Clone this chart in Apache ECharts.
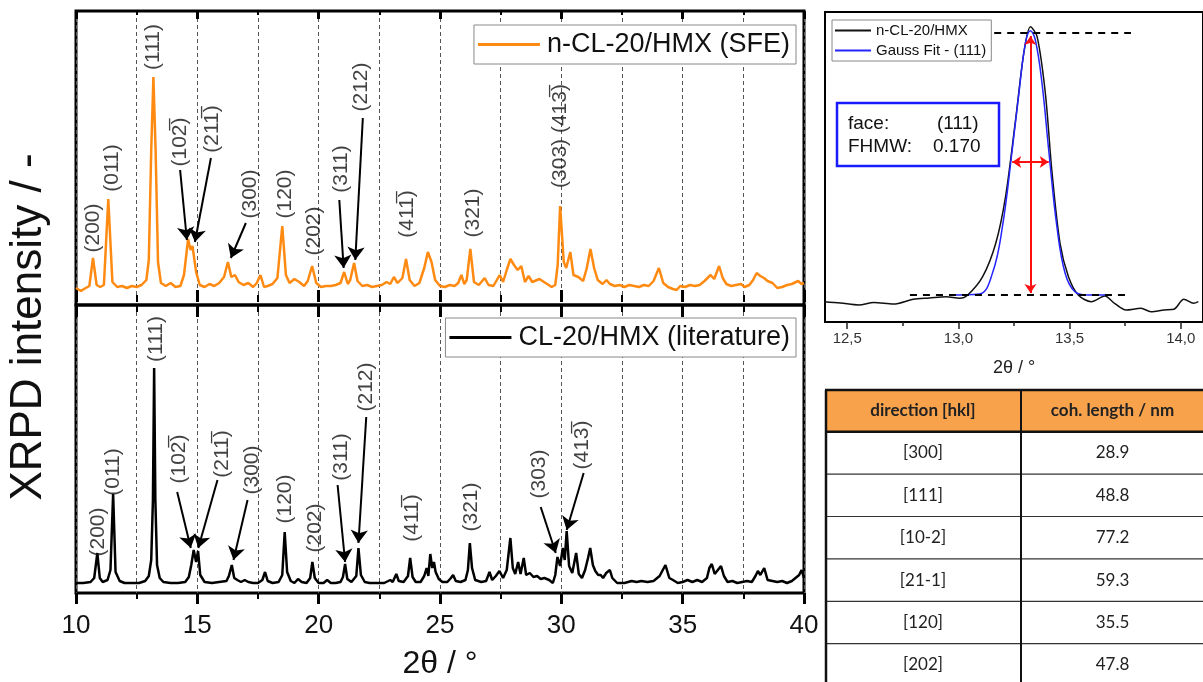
<!DOCTYPE html>
<html><head><meta charset="utf-8">
<script src="https://cdn.jsdelivr.net/npm/echarts@6/dist/echarts.min.js"></script>
<style>html,body{margin:0;padding:0;background:#fff}#c{width:1203px;height:682px}</style>
</head><body><div id="c"></div><script>
// ---------------- DATA ----------------
const OV = '\u0305';
const xTicksMain = [10, 15, 20, 25, 30, 35, 40];
const insetMajorTicks = [12.5, 13.0, 13.5, 14.0];
const insetMinorTicks = [12.75, 13.25, 13.75];

const sfeName = 'n-CL-20/HMX (SFE)';
const litName = 'CL-20/HMX (literature)';
const insetDataName = 'n-CL-20/HMX';
const insetFitName = 'Gauss Fit - (111)';

const sfePattern = [[10.0,14],[10.2,11],[10.4,14],[10.55,16],[10.7,44],[10.85,17],[11.0,15],[11.15,17],[11.33,103],[11.5,20],[11.7,15],[11.9,16],[12.1,14],[12.3,16],[12.5,15],[12.7,17],[12.9,22],[13.0,42],[13.1,152],[13.19,225],[13.28,152],[13.38,40],[13.5,19],[13.7,16],[13.9,19],[14.1,15],[14.3,16],[14.45,27],[14.62,63],[14.72,52],[14.8,56],[14.95,30],[15.1,17],[15.3,15],[15.5,18],[15.7,16],[15.9,19],[16.1,25],[16.26,40],[16.4,25],[16.55,27],[16.7,20],[16.9,17],[17.1,19],[17.3,15],[17.45,19],[17.6,27],[17.75,15],[17.9,16],[18.1,18],[18.3,24],[18.5,76],[18.65,27],[18.8,19],[19.0,23],[19.2,20],[19.4,16],[19.55,21],[19.73,36],[19.9,19],[20.1,15],[20.3,16],[20.5,16],[20.7,17],[20.9,19],[21.05,30],[21.2,18],[21.3,22],[21.46,39],[21.6,21],[21.8,16],[22.0,17],[22.2,15],[22.4,16],[22.6,17],[22.8,20],[22.95,18],[23.1,25],[23.25,19],[23.45,24],[23.6,43],[23.75,22],[23.95,16],[24.15,19],[24.35,34],[24.5,50],[24.65,40],[24.8,22],[25.0,16],[25.2,15],[25.4,17],[25.6,16],[25.75,19],[25.88,27],[26.0,18],[26.1,22],[26.25,53],[26.4,20],[26.6,17],[26.84,24],[27.0,17],[27.2,16],[27.46,27],[27.6,20],[27.75,32],[27.9,43],[28.05,37],[28.2,32],[28.35,36],[28.5,20],[28.65,26],[28.8,20],[29.1,23],[29.35,19],[29.6,15],[29.75,17],[29.85,37],[29.95,96],[30.1,40],[30.2,34],[30.37,50],[30.5,27],[30.7,25],[30.9,21],[31.05,34],[31.2,53],[31.35,34],[31.5,22],[31.7,18],[31.86,22],[32.0,18],[32.2,16],[32.4,17],[32.6,15],[32.8,17],[33.0,16],[33.2,15],[33.4,17],[33.6,16],[33.8,21],[34.02,34],[34.2,19],[34.4,15],[34.6,13],[34.75,12],[34.9,16],[35.1,15],[35.3,17],[35.5,16],[35.7,17],[35.9,21],[36.15,27],[36.3,23],[36.5,36],[36.65,24],[36.8,18],[37.0,16],[37.2,17],[37.4,18],[37.55,15],[37.75,17],[37.9,22],[38.05,29],[38.2,26],[38.35,24],[38.5,21],[38.7,19],[38.9,14],[39.1,15],[39.3,17],[39.5,18],[39.76,21],[39.9,18],[40.0,19]];

const litPattern = [[10.0,13],[10.3,13],[10.6,14],[10.75,18],[10.88,43],[10.98,18],[11.1,14],[11.3,16],[11.42,26],[11.53,102],[11.63,24],[11.8,15],[12.0,13],[12.3,13],[12.6,13],[12.85,15],[13.0,20],[13.1,36],[13.17,96],[13.22,228],[13.27,96],[13.34,31],[13.45,18],[13.6,14],[13.9,13],[14.2,13],[14.5,14],[14.65,19],[14.75,31],[14.85,46],[14.95,34],[15.03,45],[15.12,21],[15.3,14],[15.6,13],[15.9,14],[16.2,15],[16.3,20],[16.42,31],[16.52,18],[16.65,16],[16.8,14],[16.95,16],[17.1,14],[17.3,13],[17.5,13],[17.68,16],[17.79,24],[17.9,15],[18.1,13],[18.35,14],[18.5,21],[18.6,64],[18.7,24],[18.85,15],[19.0,13],[19.15,17],[19.3,14],[19.5,13],[19.65,18],[19.74,34],[19.84,18],[20.0,13],[20.2,13],[20.35,16],[20.5,13],[20.7,13],[20.9,14],[21.0,19],[21.09,32],[21.18,17],[21.35,14],[21.55,20],[21.64,48],[21.74,21],[21.9,14],[22.1,13],[22.4,13],[22.7,13],[22.95,16],[23.05,14],[23.2,22],[23.3,15],[23.5,14],[23.68,20],[23.77,38],[23.87,19],[24.0,14],[24.2,14],[24.35,20],[24.45,28],[24.52,20],[24.6,42],[24.68,28],[24.75,34],[24.82,24],[24.95,17],[25.1,14],[25.3,14],[25.45,18],[25.54,21],[25.65,15],[25.85,14],[26.05,16],[26.15,26],[26.23,53],[26.32,28],[26.45,16],[26.7,14],[26.9,15],[27.04,24],[27.15,16],[27.3,20],[27.45,25],[27.6,18],[27.75,26],[27.9,58],[28.0,28],[28.1,22],[28.22,34],[28.32,22],[28.45,38],[28.55,21],[28.7,23],[28.85,19],[29.0,20],[29.15,17],[29.3,18],[29.5,16],[29.65,13],[29.75,21],[29.84,39],[29.95,30],[30.06,48],[30.14,36],[30.22,65],[30.32,30],[30.45,23],[30.61,43],[30.72,22],[30.85,18],[30.98,26],[31.1,38],[31.19,48],[31.3,31],[31.4,25],[31.52,21],[31.62,21],[31.72,18],[31.85,23],[32.0,26],[32.1,18],[32.3,13],[32.6,13],[32.9,15],[33.1,14],[33.3,15],[33.55,14],[33.8,15],[34.05,20],[34.29,31],[34.45,18],[34.6,16],[34.8,13],[35.0,14],[35.2,16],[35.4,14],[35.6,16],[35.8,14],[36.0,18],[36.1,28],[36.2,32],[36.32,22],[36.45,26],[36.58,30],[36.7,20],[36.85,14],[37.05,15],[37.25,13],[37.45,14],[37.65,15],[37.85,14],[38.0,20],[38.1,25],[38.2,21],[38.36,28],[38.5,16],[38.7,15],[38.9,14],[39.1,15],[39.3,13],[39.5,15],[39.65,18],[39.8,21],[39.9,26],[40.0,18]];

// peak labels: [text, 2theta, intensity-position]
const sfeLabels = [['(200)',10.70,74],['(011)',11.49,134],['(111)',13.18,255],['(10'+'2'+OV+')',14.29,160],['(21'+'1'+OV+')',15.61,173],['(300)',17.17,108],['(120)',18.61,108],['(202)',19.82,71],['(311)',20.92,133],['(212)',21.77,215],['(41'+'1'+OV+')',23.66,88],['(321)',26.37,89],['(303) (41'+'3'+OV+')',29.97,166]];
const litLabels = [['(200)',10.91,64],['(011)',11.54,124],['(111)',13.29,257],['(10'+'2'+OV+')',14.25,137],['(21'+'1'+OV+')',16.03,142],['(300)',17.26,126],['(120)',18.61,97],['(202)',19.85,68],['(311)',20.92,139],['(212)',21.96,209],['(41'+'1'+OV+')',23.84,78],['(321)',26.30,89],['(303)',29.08,122],['(41'+'3'+OV+')',30.88,151]];
const sfeArrows = [[[14.29,132],[14.57,62]],[[15.56,144],[14.90,60]],[[17.00,79],[16.38,44]],[[20.85,102],[21.03,34]],[[21.82,184],[21.51,42]]];
const litArrows = [[[14.17,104],[14.73,48]],[[15.83,116],[15.04,48]],[[17.07,96],[16.49,36]],[[20.78,111],[21.09,34]],[[21.96,179],[21.64,53]],[[29.15,89],[29.77,43]],[[30.92,123],[30.22,66]]];

const insetPattern = [[12.396,20.3],[12.47,19],[12.552,17],[12.62,19.5],[12.708,18],[12.797,22.7],[12.87,24],[12.945,25.3],[13.005,23.7],[13.042,27],[13.109,45.3],[13.168,78.7],[13.212,125.3],[13.257,202],[13.294,268.7],[13.324,295.3],[13.354,285.3],[13.391,228.7],[13.42,152],[13.457,78.7],[13.495,45.3],[13.539,27],[13.598,20.3],[13.658,26],[13.702,18.7],[13.754,12],[13.821,13.7],[13.866,10.3],[13.925,12],[13.969,12.7],[14.014,22.7],[14.058,18.7],[14.079,20.3]];
const gaussFit = [[12.96,27],[13.094,28],[13.153,48.7],[13.198,95.3],[13.242,172],[13.272,228.7],[13.301,278.7],[13.324,291.3],[13.346,282],[13.376,238.7],[13.406,172],[13.443,95.3],[13.48,48.7],[13.524,30.3],[13.584,27],[13.673,27]];
const insetDashes = [[[13.161,289.3],[13.776,289.3]],[[12.782,27],[13.776,27]]];
const insetRedArrows = [[[13.324,286],[13.324,29]],[[13.242,160],[13.406,160]]];
const fitFace = '(111)';
const fitFwhm = '0.170';

const tableHeader = ['direction [hkl]', 'coh. length / nm'];
const tableDirections = ['[300]','[111]','[10-2]','[21-1]','[120]','[202]'];
const tableLengths = ['28.9','48.8','77.2','59.3','35.5','47.8'];

// ---------------- CHART ----------------
const FONT = 'Liberation Sans';
const dashed = {color:'#555', type:[4,3], width:1};
const chart = echarts.init(document.getElementById('c'), null, {renderer:'canvas'});

function lines(arr){ return arr.map(a => [{coord:a[0]},{coord:a[1]}]); }
function pts(arr){ return arr.map(a => ({name:a[0], value:[a[1],a[2]]})); }

function mainX(grid, pos, tickLen, inside, split, labels){
  return {
    gridIndex:grid, type:'value', position:pos, min:10, max:40, interval:5,
    axisLine:{show:false},
    axisTick:{show:true, inside:inside, length:tickLen, lineStyle:{color:'#000', width:3}},
    minorTick:{show:true, splitNumber:2, length:Math.round(tickLen*0.55), lineStyle:{color:'#000', width:2}},
    axisLabel:{show:labels, fontSize:26, fontFamily:FONT, color:'#111', margin:20},
    splitLine:{show:split, lineStyle:dashed},
    minorSplitLine:{show:split, lineStyle:dashed}
  };
}

const bottomX = mainX(1,'bottom',11,false,true,true);
bottomX.name = '2\u03b8 / \u00b0';
bottomX.nameLocation = 'middle';
bottomX.nameGap = 55;
bottomX.nameTextStyle = {fontSize:32, fontFamily:FONT, color:'#111'};

const labelStyle = {show:true, formatter:'{b}', rotate:90, position:'inside', fontSize:21, fontFamily:FONT, color:'#111'};
const arrowML = d => ({silent:true, symbol:['none','arrow'], symbolSize:13, label:{show:false},
  lineStyle:{color:'#000', width:2, type:'solid'}, emphasis:{disabled:true}, data:lines(d)});

const tblGraphics = [];
(function(){
  const L = 825, R = 1212, D = 1021, T = 390, H = 41.7, RH = 42.4;
  tblGraphics.push({type:'rect', shape:{x:L, y:T, width:R-L, height:H}, style:{fill:'#F9A24C'}});
  for (let i = 0; i < tableDirections.length; i++) {
    const y = T + H + RH*(i+1);
    tblGraphics.push({type:'line', shape:{x1:L, y1:y, x2:R, y2:y}, style:{stroke:'#333', lineWidth:1.2}});
    const cy = T + H + RH*i + RH/2;
    tblGraphics.push({type:'text', x:(L+D)/2, y:cy, style:{text:tableDirections[i], fontSize:17, fontFamily:'Lato', fill:'#222', align:'center', verticalAlign:'middle'}});
    tblGraphics.push({type:'text', x:(D+R)/2 - 4, y:cy, style:{text:tableLengths[i], fontSize:17, fontFamily:'Lato', fill:'#222', align:'center', verticalAlign:'middle'}});
  }
  tblGraphics.push({type:'line', shape:{x1:L, y1:T, x2:R, y2:T}, style:{stroke:'#111', lineWidth:2.5}});
  tblGraphics.push({type:'line', shape:{x1:L, y1:T+H, x2:R, y2:T+H}, style:{stroke:'#111', lineWidth:2.5}});
  tblGraphics.push({type:'line', shape:{x1:L+1, y1:T, x2:L+1, y2:690}, style:{stroke:'#111', lineWidth:2.5}});
  tblGraphics.push({type:'line', shape:{x1:D, y1:T, x2:D, y2:690}, style:{stroke:'#111', lineWidth:2}});
  tblGraphics.push({type:'text', x:(L+D)/2, y:T+H/2, style:{text:tableHeader[0], fontSize:17, fontWeight:'bold', fontFamily:'Lato', fill:'#222', align:'center', verticalAlign:'middle'}});
  tblGraphics.push({type:'text', x:(D+R)/2 - 4, y:T+H/2, style:{text:tableHeader[1], fontSize:17, fontWeight:'bold', fontFamily:'Lato', fill:'#222', align:'center', verticalAlign:'middle'}});
})();

const option = {
  animation:false,
  backgroundColor:'#fff',
  textStyle:{fontFamily:FONT},
  grid:[
    {left:76, top:11, width:728, height:294, show:true, borderColor:'#000', borderWidth:3, backgroundColor:'transparent'},
    {left:76, top:305, width:728, height:288, show:true, borderColor:'#000', borderWidth:3, backgroundColor:'transparent'},
    {left:825, top:12, right:-4, height:310, show:true, borderColor:'#000', borderWidth:2, backgroundColor:'transparent'}
  ],
  xAxis:[
    mainX(0,'bottom',12,true,true,false),
    mainX(0,'top',8,true,false,false),
    bottomX,
    mainX(1,'top',12,true,false,false),
    {gridIndex:2, type:'value', position:'bottom', min:12.4, max:14.1,
      axisLine:{show:false},
      axisTick:{show:true, customValues:insetMajorTicks, length:7, lineStyle:{color:'#222', width:1.5}},
      axisLabel:{show:true, customValues:insetMajorTicks, formatter:v => v.toFixed(1).replace('.', ','), fontSize:15, fontFamily:FONT, color:'#333', margin:9},
      splitLine:{show:false},
      name:'2\u03b8 / \u00b0', nameLocation:'middle', nameGap:37, nameTextStyle:{fontSize:18, fontFamily:FONT, color:'#222'}},
    {gridIndex:2, type:'value', position:'bottom', min:12.4, max:14.1,
      axisLine:{show:false},
      axisTick:{show:true, customValues:insetMinorTicks, length:4, lineStyle:{color:'#222', width:1.5}},
      axisLabel:{show:false}, splitLine:{show:false}}
  ],
  yAxis:[
    {gridIndex:0, type:'value', min:-3, max:291, show:false},
    {gridIndex:1, type:'value', min:3, max:291, show:false},
    {gridIndex:2, type:'value', min:0, max:310, show:false}
  ],
  legend:[
    {data:[{name:sfeName, icon:'rect'}], right:407, top:25, itemWidth:62, itemHeight:3, padding:[6,6,6,4], itemGap:0,
      borderColor:'#888', borderWidth:1, backgroundColor:'#fff', textStyle:{fontSize:27, fontFamily:FONT, color:'#111', padding:[0,0,0,2]}},
    {data:[{name:litName, icon:'rect'}], right:407, top:318, itemWidth:62, itemHeight:3, padding:[6,6,6,4], itemGap:0,
      borderColor:'#888', borderWidth:1, backgroundColor:'#fff', textStyle:{fontSize:27, fontFamily:FONT, color:'#111', padding:[0,0,0,2]}},
    {data:[{name:insetDataName, icon:'rect'}, {name:insetFitName, icon:'rect'}], left:832, top:20, orient:'vertical', itemWidth:36, itemHeight:2, itemGap:5, padding:[3,5,3,3],
      borderColor:'#888', borderWidth:1, backgroundColor:'#fff', textStyle:{fontSize:15, fontFamily:FONT, color:'#111'}}
  ],
  series:[
    {name:sfeName, type:'line', xAxisIndex:0, yAxisIndex:0, data:sfePattern, symbol:'none', color:'#FF8A12',
      lineStyle:{width:2.5, color:'#FF8A12'}, markLine:arrowML(sfeArrows), z:3},
    {name:litName, type:'line', xAxisIndex:2, yAxisIndex:1, data:litPattern, symbol:'none', color:'#000',
      lineStyle:{width:2.5, color:'#000'}, markLine:arrowML(litArrows), z:3},
    {name:'sfeLabels', type:'scatter', xAxisIndex:0, yAxisIndex:0, data:pts(sfeLabels), symbolSize:1,
      itemStyle:{color:'rgba(0,0,0,0)'}, label:labelStyle, silent:true, z:5},
    {name:'litLabels', type:'scatter', xAxisIndex:2, yAxisIndex:1, data:pts(litLabels), symbolSize:1,
      itemStyle:{color:'rgba(0,0,0,0)'}, label:labelStyle, silent:true, z:5},
    {name:insetDataName, type:'line', xAxisIndex:4, yAxisIndex:2, data:insetPattern, symbol:'none', smooth:0.3, color:'#111',
      lineStyle:{width:1.5, color:'#111'},
      markLine:{silent:true, symbol:'none', label:{show:false}, lineStyle:{color:'#000', width:2, type:[7,6]}, data:lines(insetDashes)}},
    {name:insetFitName, type:'line', xAxisIndex:4, yAxisIndex:2, data:gaussFit, symbol:'none', smooth:0.4, color:'#2424ff',
      lineStyle:{width:1.5, color:'#2424ff'},
      markLine:{silent:true, symbol:['arrow','arrow'], symbolSize:9, label:{show:false}, lineStyle:{color:'#ff1010', width:2, type:'solid'}, data:lines(insetRedArrows)}}
  ],
  graphic:[
    {type:'text', x:29, y:327, rotation:Math.PI/2, style:{text:'XRPD intensity / -', fontSize:44, fontFamily:FONT, fill:'#111', align:'center', verticalAlign:'middle'}},
    {type:'rect', shape:{x:837, y:103, width:162, height:63}, style:{fill:'#fff', stroke:'#1a1aff', lineWidth:2.5}, z:10},
    {type:'text', x:848, y:124, style:{text:'face:', fontSize:19, fontFamily:FONT, fill:'#111', verticalAlign:'middle'}, z:11},
    {type:'text', x:937, y:124, style:{text:fitFace, fontSize:19, fontFamily:FONT, fill:'#111', verticalAlign:'middle'}, z:11},
    {type:'text', x:848, y:147, style:{text:'FHMW:', fontSize:19, fontFamily:FONT, fill:'#111', verticalAlign:'middle'}, z:11},
    {type:'text', x:933, y:147, style:{text:fitFwhm, fontSize:19, fontFamily:FONT, fill:'#111', verticalAlign:'middle'}, z:11}
  ].concat(tblGraphics)
};
chart.setOption(option);
</script></body></html>
